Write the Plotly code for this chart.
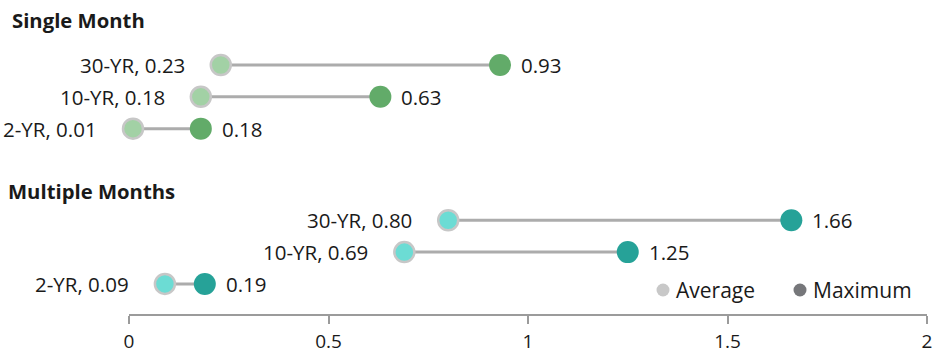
import plotly.graph_objects as go

# ---- data ----
tenors = ["30-YR", "10-YR", "2-YR"]
single_avg = [0.23, 0.18, 0.01]
single_max = [0.93, 0.63, 0.18]
multi_avg = [0.80, 0.69, 0.09]
multi_max = [1.66, 1.25, 0.19]
group_titles = ["Single Month", "Multiple Months"]
x_ticks = [0, 0.5, 1, 1.5, 2]
x_tick_labels = ["0", "0.5", "1", "1.5", "2"]
legend_names = ["Average", "Maximum"]
legend_colors = ["#c8c8c8", "#76777a"]

# ---- styling / layout ----
FONT = "Open Sans"
TXT = "#1a1a1a"
LINE = "#acacac"
LBL = 20.5
groups = [
    dict(avg=single_avg, mx=single_max, off=0.0, title_y=-1.43, title_x=-0.149,
         c_avg="#a2d1a5", c_max="#62ab69"),
    dict(avg=multi_avg, mx=multi_max, off=4.93, title_y=4.0, title_x=-0.154,
         c_avg="#6cdcd4", c_max="#26a298"),
]
PW = 798.0   # plot width in px
PH = 314.0   # plot height in px

fig = go.Figure()
annotations = []
shapes = []
for gi, g in enumerate(groups):
    ys = [g["off"] + i * 1.01 for i in range(len(tenors))]
    lx, ly = [], []
    for a, m, y in zip(g["avg"], g["mx"], ys):
        lx += [a, m, None]
        ly += [y, y, None]
    fig.add_trace(go.Scatter(x=lx, y=ly, mode="lines", line=dict(color=LINE, width=3),
                             showlegend=False, hoverinfo="skip", cliponaxis=False))
    fig.add_trace(go.Scatter(x=g["avg"], y=ys, mode="markers", cliponaxis=False,
                             marker=dict(size=20, color=g["c_avg"], line=dict(color="#c7c7c7", width=2.5)),
                             showlegend=False))
    fig.add_trace(go.Scatter(x=g["mx"], y=ys, mode="markers", cliponaxis=False,
                             marker=dict(size=22, color=g["c_max"], line=dict(width=0)),
                             showlegend=False))
    for t, a, m, y in zip(tenors, g["avg"], g["mx"], ys):
        annotations.append(dict(x=a, y=y, xref="x", yref="y", text=f"{t}, {a:.2f}",
                                xanchor="right", yanchor="middle", xshift=-34, showarrow=False,
                                font=dict(family=FONT, size=LBL, color=TXT)))
        annotations.append(dict(x=m, y=y, xref="x", yref="y", text=f"{m:.2f}",
                                xanchor="left", yanchor="middle", xshift=19, showarrow=False,
                                font=dict(family=FONT, size=LBL, color=TXT)))
    annotations.append(dict(x=g["title_x"], y=g["title_y"], xref="paper", yref="y",
                            text=f"<b>{group_titles[gi]}</b>", xanchor="left", yanchor="middle",
                            showarrow=False, font=dict(family=FONT, size=20.3, color=TXT)))

# manual legend (circle + label) at the bottom right of the plot area
leg_marker_px = [663, 800]
leg_y = (PH - 290) / PH
for name, col, mx in zip(legend_names, legend_colors, leg_marker_px):
    xa = (mx - 129) / PW
    shapes.append(dict(type="circle", xref="paper", yref="paper", xsizemode="pixel",
                       ysizemode="pixel", xanchor=xa, yanchor=leg_y, x0=-6.5, x1=6.5,
                       y0=-6.5, y1=6.5, fillcolor=col, line=dict(width=0)))
    annotations.append(dict(x=xa, y=leg_y, xref="paper", yref="paper", text=name,
                            xanchor="left", yanchor="middle", xshift=11, showarrow=False,
                            font=dict(family=FONT, size=21, color=TXT)))

S = 31.5
top = -65 / S
fig.update_layout(
    width=934, height=353,
    margin=dict(l=129, r=7, t=0, b=39),
    plot_bgcolor="white", paper_bgcolor="white",
    font=dict(family=FONT, size=18, color=TXT),
    annotations=annotations,
    shapes=shapes,
    showlegend=False,
    xaxis=dict(range=[0, 2], tickvals=x_ticks, ticktext=x_tick_labels, showgrid=False,
               zeroline=False, showline=True, linecolor="#9b9b9b", linewidth=2,
               ticks="outside", ticklen=8, tickcolor="#9b9b9b", tickwidth=2,
               ticklabelstandoff=1, automargin=False,
               tickfont=dict(family=FONT, size=19, color=TXT)),
    yaxis=dict(range=[top + PH / S, top], showgrid=False, zeroline=False,
               showticklabels=False, showline=False, automargin=False),
)

fig.write_html("out.html", config={"displayModeBar": False},
               post_script="document.body.style.margin='0';document.body.style.overflow='hidden';")
